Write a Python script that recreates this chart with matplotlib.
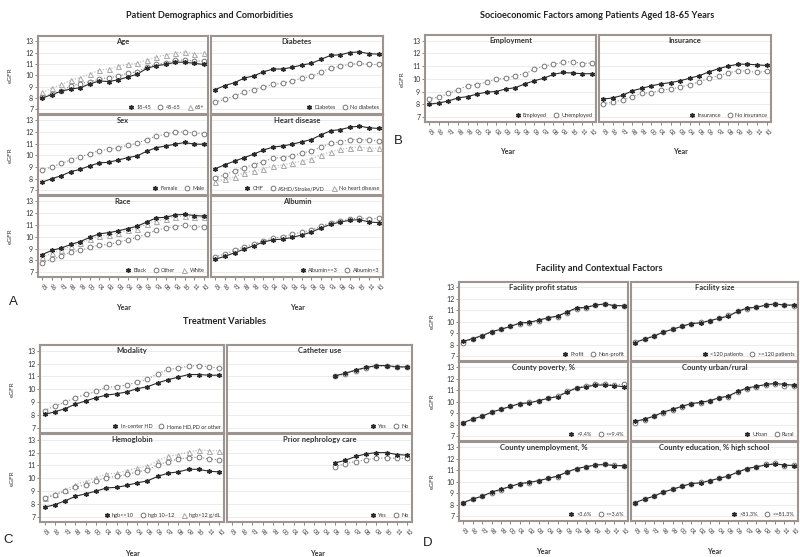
import numpy as np
import matplotlib.pyplot as plt
from matplotlib.lines import Line2D

plt.rcParams['font.family'] = ['Lato', 'DejaVu Sans']

years = ['95', '96', '97', '98', '99', '00', '01', '02', '03', '04', '05', '06',
         '07', '08', '09', '10', '11', '12']
late_years = years[10:]

# A: patient demographics and comorbidities
age_18_45 = [8.0, 8.3, 8.6, 8.8, 8.9, 9.25, 9.5, 9.45, 9.6, 9.85, 10.1, 10.6, 10.85, 10.95, 11.15, 11.15, 11.05, 10.95]
age_45_65 = [8.1, 8.35, 8.65, 9.05, 9.25, 9.45, 9.65, 9.8, 9.9, 10.2, 10.3, 10.7, 10.95, 11.1, 11.3, 11.35, 11.25, 11.25]
age_65 = [8.5, 8.85, 9.2, 9.55, 9.8, 10.1, 10.45, 10.55, 10.8, 10.95, 11.05, 11.35, 11.6, 11.8, 11.95, 12.05, 11.9, 11.95]
diab_yes = [8.75, 9.1, 9.35, 9.75, 9.95, 10.3, 10.55, 10.55, 10.7, 10.9, 11.05, 11.4, 11.75, 11.8, 12.0, 12.05, 11.9, 11.85]
diab_no = [7.65, 7.9, 8.2, 8.5, 8.75, 8.95, 9.2, 9.3, 9.5, 9.75, 9.9, 10.3, 10.6, 10.8, 10.95, 11.05, 10.95, 10.95]
female = [7.7, 8.0, 8.25, 8.6, 8.8, 9.1, 9.35, 9.4, 9.6, 9.8, 9.95, 10.35, 10.65, 10.8, 10.95, 11.1, 10.95, 10.95]
male = [8.75, 9.0, 9.3, 9.6, 9.85, 10.15, 10.4, 10.5, 10.65, 10.85, 11.05, 11.35, 11.65, 11.8, 12.0, 12.0, 11.9, 11.85]
chf = [8.85, 9.2, 9.5, 9.8, 10.1, 10.45, 10.7, 10.8, 10.95, 11.15, 11.35, 11.75, 12.1, 12.2, 12.4, 12.5, 12.35, 12.3]
ashd = [8.05, 8.35, 8.65, 8.95, 9.2, 9.45, 9.75, 9.8, 9.95, 10.2, 10.35, 10.7, 11.05, 11.15, 11.35, 11.35, 11.3, 11.25]
no_heart = [7.7, 7.95, 8.15, 8.5, 8.65, 8.85, 9.1, 9.15, 9.35, 9.5, 9.7, 10.05, 10.3, 10.5, 10.65, 10.7, 10.6, 10.6]
black = [8.5, 8.85, 9.05, 9.35, 9.6, 9.95, 10.25, 10.35, 10.5, 10.7, 10.9, 11.25, 11.6, 11.65, 11.85, 11.9, 11.8, 11.75]
other = [7.8, 8.1, 8.35, 8.7, 8.85, 9.1, 9.3, 9.35, 9.55, 9.75, 9.95, 10.25, 10.55, 10.75, 10.85, 11.0, 10.85, 10.85]
white = [8.3, 8.6, 8.85, 9.2, 9.5, 9.8, 10.05, 10.15, 10.3, 10.55, 10.7, 11.1, 11.35, 11.5, 11.7, 11.75, 11.65, 11.65]
alb_hi = [8.1, 8.35, 8.65, 8.95, 9.25, 9.55, 9.75, 9.8, 9.95, 10.15, 10.4, 10.75, 11.05, 11.25, 11.4, 11.45, 11.25, 11.2]
alb_lo = [8.3, 8.55, 8.85, 9.15, 9.4, 9.65, 9.9, 10.0, 10.2, 10.4, 10.55, 10.9, 11.2, 11.35, 11.5, 11.6, 11.5, 11.55]

# B: socioeconomic factors
employed = [8.0, 8.1, 8.25, 8.5, 8.6, 8.8, 8.95, 9.0, 9.2, 9.3, 9.6, 9.85, 10.05, 10.35, 10.5, 10.45, 10.4, 10.4]
unemployed = [8.45, 8.55, 8.85, 9.15, 9.45, 9.55, 9.75, 9.95, 10.05, 10.25, 10.4, 10.75, 11.0, 11.15, 11.3, 11.35, 11.2, 11.25]
insured = [8.4, 8.5, 8.7, 9.05, 9.25, 9.45, 9.6, 9.7, 9.85, 10.05, 10.25, 10.55, 10.8, 11.0, 11.15, 11.15, 11.1, 11.05]
uninsured = [8.05, 8.15, 8.35, 8.6, 8.85, 8.9, 9.1, 9.2, 9.35, 9.55, 9.75, 10.05, 10.25, 10.45, 10.65, 10.6, 10.5, 10.6]

# C: treatment variables
in_center = [8.05, 8.25, 8.5, 8.85, 9.1, 9.35, 9.55, 9.65, 9.8, 10.05, 10.2, 10.5, 10.75, 10.95, 11.15, 11.15, 11.1, 11.1]
home = [8.35, 8.7, 9.0, 9.35, 9.6, 9.85, 10.15, 10.2, 10.35, 10.55, 10.8, 11.2, 11.55, 11.65, 11.8, 11.85, 11.75, 11.65]
cath_yes = [11.05, 11.25, 11.5, 11.7, 11.85, 11.85, 11.75, 11.75]
cath_no = [11.0, 11.2, 11.45, 11.65, 11.8, 11.8, 11.7, 11.7]
hgb_lo = [7.75, 7.95, 8.25, 8.6, 8.8, 9.0, 9.25, 9.3, 9.45, 9.65, 9.8, 10.15, 10.4, 10.5, 10.7, 10.7, 10.55, 10.5]
hgb_mid = [8.45, 8.7, 9.0, 9.3, 9.5, 9.8, 10.05, 10.15, 10.3, 10.5, 10.65, 11.05, 11.3, 11.5, 11.6, 11.65, 11.5, 11.45]
hgb_hi = [8.5, 8.8, 9.1, 9.5, 9.75, 10.05, 10.35, 10.4, 10.6, 10.8, 10.95, 11.35, 11.7, 11.85, 12.05, 12.2, 12.15, 12.15]
neph_yes = [11.2, 11.4, 11.7, 11.9, 12.0, 12.0, 11.85, 11.8]
neph_no = [10.9, 11.15, 11.3, 11.45, 11.55, 11.6, 11.55, 11.6]

# D: facility and contextual factors
profit = [8.3, 8.55, 8.8, 9.15, 9.35, 9.6, 9.9, 9.95, 10.15, 10.35, 10.5, 10.85, 11.2, 11.25, 11.45, 11.55, 11.4, 11.4]
nonprofit = [8.15, 8.5, 8.75, 9.1, 9.35, 9.6, 9.85, 9.9, 10.1, 10.3, 10.45, 10.8, 11.15, 11.2, 11.45, 11.5, 11.4, 11.35]
small_fac = [8.2, 8.5, 8.75, 9.1, 9.35, 9.6, 9.85, 9.9, 10.1, 10.3, 10.5, 10.9, 11.2, 11.25, 11.45, 11.55, 11.45, 11.45]
large_fac = [8.25, 8.5, 8.8, 9.1, 9.35, 9.6, 9.85, 9.95, 10.1, 10.3, 10.55, 10.9, 11.15, 11.3, 11.45, 11.5, 11.45, 11.4]
pov_hi = [8.2, 8.5, 8.75, 9.1, 9.35, 9.6, 9.85, 9.9, 10.1, 10.3, 10.45, 10.85, 11.2, 11.3, 11.45, 11.45, 11.4, 11.3]
pov_lo = [8.15, 8.5, 8.75, 9.1, 9.35, 9.6, 9.85, 9.95, 10.1, 10.35, 10.5, 10.95, 11.2, 11.4, 11.55, 11.55, 11.45, 11.5]
urban = [8.3, 8.5, 8.75, 9.1, 9.35, 9.6, 9.85, 9.95, 10.1, 10.35, 10.5, 10.9, 11.2, 11.35, 11.5, 11.6, 11.5, 11.45]
rural = [8.15, 8.45, 8.75, 9.05, 9.3, 9.55, 9.8, 9.9, 10.05, 10.3, 10.45, 10.85, 11.15, 11.25, 11.45, 11.5, 11.35, 11.4]
unemp_hi = [8.2, 8.5, 8.75, 9.1, 9.35, 9.6, 9.85, 9.95, 10.1, 10.3, 10.5, 10.85, 11.15, 11.3, 11.45, 11.5, 11.4, 11.4]
unemp_lo = [8.2, 8.5, 8.75, 9.05, 9.3, 9.6, 9.85, 9.9, 10.1, 10.3, 10.45, 10.85, 11.15, 11.3, 11.45, 11.55, 11.45, 11.35]
edu_hi = [8.2, 8.5, 8.75, 9.1, 9.35, 9.6, 9.85, 9.9, 10.1, 10.3, 10.5, 10.85, 11.15, 11.3, 11.45, 11.55, 11.45, 11.4]
edu_lo = [8.2, 8.5, 8.75, 9.1, 9.35, 9.6, 9.85, 9.95, 10.1, 10.3, 10.5, 10.85, 11.15, 11.3, 11.5, 11.6, 11.4, 11.45]

W, H = 800, 557
FRAME = '#9d9490'
STYLES = [
    dict(color='#2a2a2a', marker=(6, 2, 0), ms=3.4, mew=1.0, ls='-', lw=0.8, mfc='#2a2a2a', mec='#2a2a2a'),
    dict(color='#8a8a8a', marker='o', ms=3.4, mew=0.7, ls=':', lw=0.8, mfc='white', mec='#777777'),
    dict(color='#b5b5b5', marker='^', ms=3.6, mew=0.7, ls=':', lw=0.8, mfc='white', mec='#a8a8a8'),
]

fig = plt.figure(figsize=(W / 100, H / 100), dpi=100)


def px_axes(x0, x1, y0, y1):
    return fig.add_axes([x0 / W, 1 - y1 / H, (x1 - x0) / W, (y1 - y0) / H])


def facet(x0, x1, y0, y1, title, series, labels, first_col, bottom, start=0):
    ax = px_axes(x0, x1, y0, y1)
    handles = []
    for k, vals in enumerate(series):
        st = STYLES[k]
        xs = np.arange(start, start + len(vals))
        ax.plot(xs, vals, color=st['color'], ls=st['ls'], lw=st['lw'], zorder=2 + (2 - k))
        ax.plot(xs, vals, ls='none', marker=st['marker'], ms=st['ms'], mew=st['mew'],
                mfc=st['mfc'], mec=st['mec'], zorder=5 + (2 - k))
        handles.append(Line2D([], [], ls='none', marker=st['marker'], ms=st['ms'], mew=st['mew'],
                              mfc=st['mfc'], mec=st['mec']))
    ax.set_xlim(-0.45, len(years) - 0.55)
    ax.set_ylim(6.6, 13.45)
    ax.set_yticks(range(7, 14))
    ax.grid(axis='y', color='#e4e4e4', lw=0.5)
    ax.set_axisbelow(True)
    for s in ax.spines.values():
        s.set_color(FRAME)
        s.set_linewidth(1.5)
    ax.tick_params(axis='y', length=2, width=0.5, color='#555555', labelsize=5, pad=1.5,
                   left=first_col, labelleft=first_col, labelcolor='#333333')
    ax.set_xticks(np.arange(len(years)))
    if bottom:
        ax.set_xticklabels(years, rotation=-45, ha='left', va='top', rotation_mode='anchor',
                           fontsize=4.6, color='#333333')
        ax.tick_params(axis='x', length=2.5, width=0.5, color='#555555', pad=2)
    else:
        ax.tick_params(axis='x', bottom=False, labelbottom=False)
    ax.text(0.5, 0.975, title, transform=ax.transAxes, ha='center', va='top',
            fontsize=5.5, fontweight='bold', color='#333333')
    ax.legend(handles, labels, loc='lower right', ncol=len(labels), frameon=False,
              fontsize=4, handlelength=0.5, handletextpad=0.7, columnspacing=1.4,
              borderaxespad=0.25, labelcolor='#333333')
    return ax


def ylab(x, y):
    fig.text(x / W, 1 - y / H, 'eGFR', rotation=90, ha='center', va='center', fontsize=4.6,
             color='#333333')


def xlab(x, y):
    fig.text(x / W, 1 - y / H, 'Year', ha='center', va='center', fontsize=5.2,
             fontweight='bold', color='#333333')


def head(x, y, s):
    fig.text(x / W, 1 - y / H, s, ha='center', va='center', fontsize=6.6,
             fontweight='bold', color='#222222')


def letter(x, y, s):
    fig.text(x / W, 1 - y / H, s, ha='center', va='center', fontsize=9.5,
             family='Liberation Sans', color='#222222')


# panel A
colA = [(38, 208), (211, 383)]
rowA = [(36, 114), (115, 195), (196, 277)]
facet(*colA[0], *rowA[0], 'Age', [age_18_45, age_45_65, age_65], ['18-45', '45-65', '65+'], True, False)
facet(*colA[1], *rowA[0], 'Diabetes', [diab_yes, diab_no], ['Diabetes', 'No diabetes'], False, False)
facet(*colA[0], *rowA[1], 'Sex', [female, male], ['Female', 'Male'], True, False)
facet(*colA[1], *rowA[1], 'Heart disease', [chf, ashd, no_heart],
      ['CHF', 'ASHD/Stroke/PVD', 'No heart disease'], False, False)
facet(*colA[0], *rowA[2], 'Race', [black, other, white], ['Black', 'Other', 'White'], True, True)
facet(*colA[1], *rowA[2], 'Albumin', [alb_hi, alb_lo], ['Albumin>=3', 'Albumin<3'], False, True)
head(209, 15, 'Patient Demographics and Comorbidities')
for y in (75, 155, 236):
    ylab(10, y)
xlab(123, 308)
xlab(297, 308)
letter(13, 302, 'A')

# panel B
colB = [(425, 596), (599, 771)]
facet(*colB[0], 35, 122, 'Employment', [employed, unemployed], ['Employed', 'Unemployed'], True, True)
facet(*colB[1], 35, 122, 'Insurance', [insured, uninsured], ['Insurance', 'No insurance'], False, True)
head(597, 15, 'Socioeconomic Factors among Patients Aged 18-65 Years')
ylab(402, 79)
xlab(507, 151)
xlab(680, 151)
letter(398, 141, 'B')

# panel C
colC = [(40, 224), (227, 412)]
rowC = [(345, 433), (434, 522)]
facet(*colC[0], *rowC[0], 'Modality', [in_center, home], ['In-center HD', 'Home HD,PD or other'], True, False)
facet(*colC[1], *rowC[0], 'Catheter use', [cath_yes, cath_no], ['Yes', 'No'], False, False,
      start=years.index(late_years[0]))
facet(*colC[0], *rowC[1], 'Hemoglobin', [hgb_lo, hgb_mid, hgb_hi],
      ['hgb<=10', 'hgb 10~12', 'hgb>12 g/dL'], True, True)
facet(*colC[1], *rowC[1], 'Prior nephrology care', [neph_yes, neph_no], ['Yes', 'No'], False, True,
      start=years.index(late_years[0]))
head(224, 322, 'Treatment Variables')
ylab(12, 389)
ylab(12, 478)
xlab(132, 553)
xlab(317, 553)
letter(8, 540, 'C')

# panel D
colD = [(459, 628), (631, 798)]
rowD = [(282, 361), (362, 441), (442, 521)]
facet(*colD[0], *rowD[0], 'Facility profit status', [profit, nonprofit], ['Profit', 'Non-profit'], True, False)
facet(*colD[1], *rowD[0], 'Facility size', [small_fac, large_fac], ['<120 patients', '>=120 patients'], False, False)
facet(*colD[0], *rowD[1], 'County poverty, %', [pov_hi, pov_lo], ['>9.4%', '<=9.4%'], True, False)
facet(*colD[1], *rowD[1], 'County urban/rural', [urban, rural], ['Urban', 'Rural'], False, False)
facet(*colD[0], *rowD[2], 'County unemployment, %', [unemp_hi, unemp_lo], ['>3.6%', '<=3.6%'], True, True)
facet(*colD[1], *rowD[2], 'County education, % high school', [edu_hi, edu_lo], ['>81.3%', '<=81.3%'], False, True)
head(599, 268, 'Facility and Contextual Factors')
for y in (321, 401, 481):
    ylab(432, y)
xlab(543, 551)
xlab(714, 551)
letter(428, 543, 'D')

fig.savefig('out.png', dpi=100, facecolor='white')
